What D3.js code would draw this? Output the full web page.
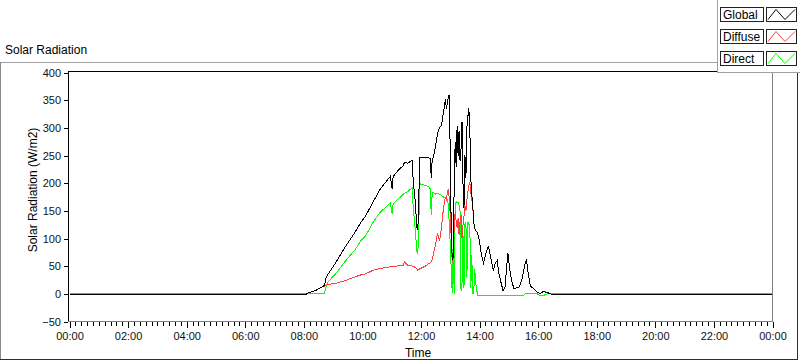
<!DOCTYPE html>
<html>
<head>
<meta charset="utf-8">
<script src="https://cdn.jsdelivr.net/npm/d3@7"></script>
<style>
  body { margin: 0; background: #fff; }
  svg { display: block; font-family: "Liberation Sans", Arial, sans-serif; }
</style>
</head>
<body>
<svg class="chart" width="800" height="361"></svg>
<script>
// Sample times (HH:MM) and the three series
const times = ["00:00","08:03","08:09","08:24","08:34","08:42","08:46","08:50","09:05","09:25",
  "09:46","09:56","10:06","10:23","10:37","10:57","11:01","11:03","11:14","11:24",
  "11:26","11:32","11:38","11:42","11:44","11:49","11:51","11:53","11:55","11:57",
  "12:09","12:15","12:19","12:21","12:23","12:25","12:30","12:34","12:38","12:42",
  "12:46","12:50","12:52","12:54","12:56","12:58","13:00","13:02","13:04","13:06",
  "13:08","13:10","13:12","13:14","13:16","13:18","13:20","13:22","13:24","13:26",
  "13:28","13:30","13:32","13:34","13:36","13:38","13:40","13:42","13:44","13:46",
  "13:48","13:50","13:52","13:56","14:00","14:04","14:08","14:14","14:18","14:24",
  "14:28","14:32","14:36","14:40","14:44","14:48","14:52","14:56","14:58","15:02",
  "15:06","15:10","15:20","15:26","15:30","15:34","15:36","15:40","15:44","15:50",
  "15:58","16:04","16:10","16:20","16:30","24:00"];

const globalVals = [-2,-2,2,6,11,15,30,36,56,85,
  113,128,140,168,190,212,190,212,224,232,
  238,236,239,241,205,160,122,115,140,246,
  246,246,244,209,244,246,268,290,300,305,
  328,352,335,345,356,360,250,110,62,65,
  200,274,230,304,250,295,240,263,310,200,
  155,250,209,300,320,335,300,209,180,160,
  130,119,115,110,94,70,56,76,87,60,
  42,56,60,35,20,6,11,54,74,42,
  23,10,11,23,40,58,61,35,14,10,
  3,0,4,2,-2,-2];

const diffuseVals = [-2,-2,2,6,11,14,16,17,19,24,
  31,34,36,43,46,49,49,49,51,52,
  58,52,52,50,50,47,46,43,44,45,
  50,54,56,58,62,70,90,110,95,120,
  155,175,168,184,190,172,140,100,55,70,
  120,150,130,119,137,106,130,142,101,124,
  140,160,150,170,184,195,202,184,170,158,
  130,118,114,110,94,70,56,76,87,60,
  42,56,60,35,20,6,11,54,74,42,
  23,10,11,23,40,58,61,35,14,10,
  3,0,5,2,-2,-2];

const directVals = [0,0,0,0,0,0,14,22,36,59,
  81,95,104,131,148,164,145,163,172,180,
  182,184,189,191,155,110,79,72,95,199,
  196,194,190,142,184,184,180,182,180,178,
  175,173,172,170,160,124,90,40,2,100,
  0,160,166,166,165,160,150,5,20,106,
  10,125,130,30,130,125,124,10,70,0,
  0,45,20,-3,-3,-3,-3,-3,-3,-3,
  -3,-3,-3,-3,-3,-3,-3,-3,-3,-3,
  -3,-3,-3,-3,-3,0,0,0,0,0,
  0,-3,-3,0,0,0];

const seriesNames = ["Global", "Diffuse", "Direct"];
const yTicks = [-50, 0, 50, 100, 150, 200, 250, 300, 350, 400];
const xTickLabels = ["00:00","02:00","04:00","06:00","08:00","10:00","12:00",
  "14:00","16:00","18:00","20:00","22:00","00:00"];

const colors = { Global: "#000000", Diffuse: "#ff4040", Direct: "#00ff00" };

// Convert "HH:MM" into decimal hours
function toHours(t) {
  const p = t.split(":");
  return +p[0] + +p[1] / 60;
}

const series = {
  Global: globalVals,
  Diffuse: diffuseVals,
  Direct: directVals
};

// Plot area
const plot = { left: 69.5, right: 772.5, top: 72.5, bottom: 321.5 };

const svg = d3.select(".chart");

const x = d3.scaleLinear().domain([0, 24]).range([plot.left, plot.right]);
const y = d3.scaleLinear().domain([-50, 400]).range([plot.bottom, plot.top]);

// Outer panel frame
const frame = svg.append("g").attr("shape-rendering", "crispEdges");
frame.append("line").attr("x1", 0).attr("x2", 717).attr("y1", 62.5).attr("y2", 62.5)
  .attr("stroke", "#a0a0a0");
frame.append("line").attr("x1", 0.5).attr("x2", 0.5).attr("y1", 62).attr("y2", 360)
  .attr("stroke", "#8a8a8a");
frame.append("line").attr("x1", 0).attr("x2", 798).attr("y1", 359.5).attr("y2", 359.5)
  .attr("stroke", "#303030");
frame.append("line").attr("x1", 797.5).attr("x2", 797.5).attr("y1", 72).attr("y2", 360)
  .attr("stroke", "#303030");

// Chart title
svg.append("text")
  .attr("x", 5)
  .attr("y", 54)
  .style("font-size", "12px")
  .attr("fill", "#000")
  .text("Solar Radiation");

// Series lines
const line = d3.line()
  .x(function (d, i) { return x(toHours(times[i])); })
  .y(function (d) { return y(d); });

const drawOrder = ["Direct", "Diffuse", "Global"];
drawOrder.forEach(function (name) {
  svg.append("path")
    .datum(series[name])
    .attr("fill", "none")
    .attr("stroke", colors[name])
    .attr("stroke-width", 1)
    .attr("shape-rendering", "crispEdges")
    .attr("d", line);
});

// Plot border: black top/left, grey bottom/right
const border = svg.append("g").attr("shape-rendering", "crispEdges");
border.append("line").attr("x1", 68).attr("x2", 773).attr("y1", 71.5).attr("y2", 71.5).attr("stroke", "#000");
border.append("line").attr("x1", 68.5).attr("x2", 68.5).attr("y1", 71).attr("y2", 322).attr("stroke", "#000");
border.append("line").attr("x1", 68).attr("x2", 773).attr("y1", 321.5).attr("y2", 321.5).attr("stroke", "#808080");
border.append("line").attr("x1", 772.5).attr("x2", 772.5).attr("y1", 71).attr("y2", 322).attr("stroke", "#808080");

// Y axis
const yAxis = svg.append("g")
  .attr("transform", "translate(68,0)")
  .call(d3.axisLeft(y).tickValues(yTicks).tickSize(4).tickSizeOuter(0).tickPadding(3));
yAxis.select(".domain").remove();
yAxis.selectAll("line").attr("shape-rendering", "crispEdges");
yAxis.selectAll("text")
  .style("font-size", "11px")
  .style("font-family", "Liberation Sans, Arial, sans-serif")
  .attr("fill", "#111");

// X axis minor ticks (every 12 minutes)
const minor = svg.append("g")
  .attr("transform", "translate(0,322)")
  .call(d3.axisBottom(x).tickValues(d3.range(0, 24.01, 0.2)).tickSize(4).tickFormat(""));
minor.select(".domain").remove();
minor.selectAll("line").attr("shape-rendering", "crispEdges");

// X axis major ticks with labels
const xAxis = svg.append("g")
  .attr("transform", "translate(0,322)")
  .call(d3.axisBottom(x)
    .tickValues(d3.range(0, 25, 2))
    .tickSize(6)
    .tickPadding(4)
    .tickFormat(function (d, i) { return xTickLabels[i]; }));
xAxis.select(".domain").remove();
xAxis.selectAll("line").attr("shape-rendering", "crispEdges");
xAxis.selectAll("text")
  .style("font-size", "11px")
  .style("font-family", "Liberation Sans, Arial, sans-serif")
  .attr("fill", "#111");

// X axis label
svg.append("text")
  .attr("x", 418)
  .attr("y", 357)
  .style("text-anchor", "middle")
  .style("font-size", "12px")
  .text("Time");

// Y axis label
svg.append("text")
  .attr("transform", "translate(37,190) rotate(-90)")
  .style("text-anchor", "middle")
  .style("font-size", "12px")
  .text("Solar Radiation (W/m2)");

// Legend panel
const legend = svg.append("g").attr("shape-rendering", "crispEdges");
legend.append("rect")
  .attr("x", 717.5).attr("y", -1)
  .attr("width", 90).attr("height", 73.5)
  .attr("fill", "#fff")
  .attr("stroke", "#a0a0a0");

seriesNames.forEach(function (name, i) {
  const top = 7.5 + i * 22;
  const item = legend.append("g");
  item.append("rect")
    .attr("x", 720.5).attr("y", top)
    .attr("width", 43).attr("height", 14)
    .attr("fill", "#fff").attr("stroke", "#222");
  item.append("text")
    .attr("x", 723).attr("y", top + 11)
    .attr("shape-rendering", "auto")
    .style("font-size", "12px")
    .text(name);
  item.append("rect")
    .attr("x", 766.5).attr("y", top)
    .attr("width", 30).attr("height", 14)
    .attr("fill", "#fff").attr("stroke", "#222");
  item.append("path")
    .attr("d", "M768," + (top + 12) + "L776," + (top + 2) + "L785," + (top + 12) + "L795," + (top + 2))
    .attr("fill", "none")
    .attr("stroke", colors[name])
    .attr("shape-rendering", "auto");
});
</script>
</body>
</html>
